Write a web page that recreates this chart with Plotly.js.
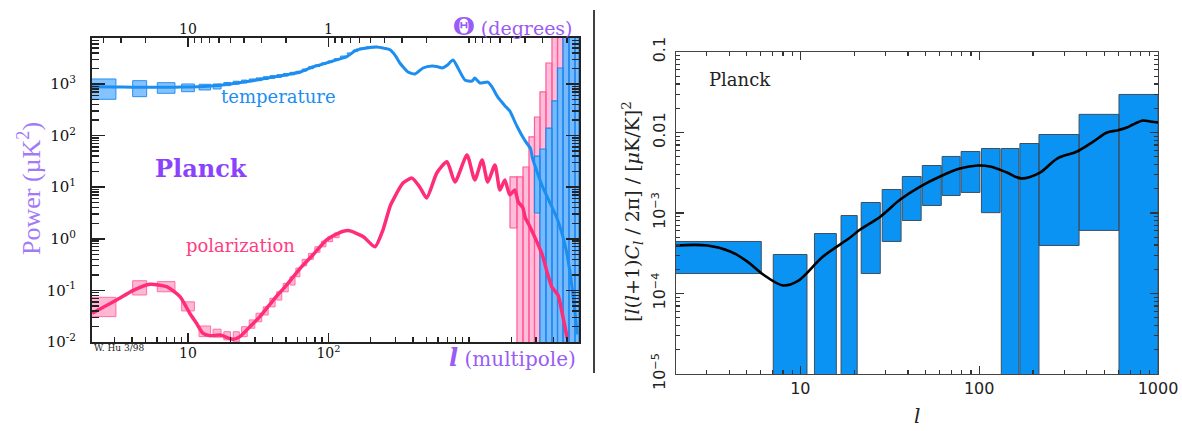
<!DOCTYPE html>
<html><head><meta charset="utf-8">
<script src="https://cdn.plot.ly/plotly-3.0.1.min.js"></script>
<style>html,body{margin:0;padding:0;background:#fff}#chart{width:1182px;height:431px}</style>
</head><body><div id="chart"></div>
<script>
// ---------- LEFT PANEL DATA (multipole l, power in uK^2) ----------
const tempL = [2,3,4,5,6,8,10,13,16,20,25,30,36,45,55,63,77,90,102,118,135,159,188,221,250,274,300,322,345,368,413,471,546,600,645,700,770,835,935,1050,1100,1200,1360,1450,1600,1800,1950,2200,2500,2750,2820,3050,3350,3650,4230,4820,5230,5680,5900];
const tempV = [880,875,865,860,860,865,875,895,930,1000,1090,1180,1290,1430,1580,1710,2130,2400,2670,3000,3380,4560,5000,5200,4900,4600,3500,2550,2050,1710,1560,2040,2230,2150,2040,2300,2920,2040,1200,1140,1300,1045,1090,900,560,380,300,150,80,55,38,20,10,6,2.5,0.77,0.23,0.038,0.014];

const polL = [2.08,3.1,4.08,5.37,7.05,8.77,10.3,11.5,12.8,14.3,16.9,21,23.4,27.6,32.5,40.5,50.3,63.1,77.6,97,115,138,177,214,244,274,288,339,393,447,500,590,697,794,968,1100,1240,1360,1530,1660,1800,1950,2120,2240,2420,2510,2720,3050,3330,3590,3890,4300,4590,5000];
const polV = [0.036,0.065,0.1,0.131,0.118,0.0755,0.036,0.023,0.0147,0.0133,0.0136,0.0113,0.0127,0.0198,0.031,0.065,0.127,0.27,0.49,0.95,1.25,1.44,1.1,0.70,1.48,4.2,5.6,12,15,10,6.2,18.8,31,12.6,42,13.8,33.7,12.6,27,8.8,13.8,7.1,8.8,5.2,4,2.6,1.7,0.86,0.48,0.23,0.116,0.081,0.038,0.012];

// temperature error boxes (low l)
const tBoxL0 = [2.0,4.04,6.05,9.02,12.0,15.1,18.0,21.0,24.1,27.3,30.5,34.3,38.3,42.8,47.6,53.2,58.6,65,72,80,89,99,110,122,136,150,166,185,205];
const tBoxL1 = [3.07,5.08,8.08,11.1,14.5,17.2,20.1,23.2,26.4,29.9,33.5,37.2,41.7,46.5,51.7,57.8,62.6,70,78,87,96,107,119,132,146,162,180,200,222];
const tBoxLo = [505,568,660,709,765,800,930,990,1050,1110,1160,1220,1290,1350,1420,1510,1590,1780,1980,2180,2390,2600,2900,3250,3750,4250,4700,4950,5050];
const tBoxHi = [1250,1159,1060,1000,987,1000,1070,1130,1190,1250,1310,1380,1450,1510,1590,1680,1760,1950,2150,2350,2570,2790,3100,3480,4000,4550,5000,5250,5350];

// polarization error boxes (low l)
const pBoxL0 = [2.0,4.04,6.05,9.02,12.0,15.1,18.0,21.0,24.1,27.3,30.5,34.3,38.3,42.8,47.6,53.2,58.6,65,72,80,89,99,110];
const pBoxL1 = [3.07,5.08,8.08,11.1,14.5,17.2,20.1,23.2,26.4,29.9,33.5,37.2,41.7,46.5,51.7,57.8,62.6,70,78,87,96,107,119];
const pBoxLo = [0.031,0.0815,0.094,0.040,0.0127,0.0124,0.011,0.0101,0.0127,0.0185,0.0247,0.0334,0.048,0.065,0.094,0.127,0.184,0.30,0.40,0.55,0.70,0.88,1.05];
const pBoxHi = [0.0735,0.154,0.148,0.060,0.0204,0.0177,0.0158,0.0158,0.0198,0.0268,0.036,0.048,0.070,0.094,0.137,0.184,0.27,0.40,0.52,0.70,0.90,1.10,1.30];

// high-l polarization bins
const pHiL0 = [1959,2196,2423,2673,2925,3200,3530,3896,4267,4670,5150];
const pHiL1 = [2196,2423,2673,2925,3200,3530,3896,4267,4670,5150,5680];
const pHiLo = [1.62,0.001,0.001,0.001,0.001,0.001,0.001,0.001,0.001,0.001,0.001];
const pHiHi = [15.8,15.8,24.6,94,229,700,2550,1e5,1e5,1e5,1e5];

// high-l temperature bins
const tHiL0 = [2925,3200,3530,3896,4267,4670,5150,5680];
const tHiL1 = [3200,3530,3896,4267,4670,5150,5680,6070];
const tHiLo = [3.16,0.001,0.001,0.001,0.001,0.001,0.001,0.001];
const tHiHi = [40,55,140,470,2040,1e5,1e5,1e5];

// angular scale axis (theta in degrees ~ 100 / l)
const thetaMajor = [10, 1, 0.1];
const thetaMajorText = ['10', '1', ''];
const thetaMinor = [40,30,20,9,8,7,6,5,4,3,2,0.9,0.8,0.7,0.6,0.5,0.4,0.3,0.2,0.09,0.08,0.07,0.06,0.05,0.04,0.03,0.02];

// ---------- RIGHT PANEL DATA ----------
const rBinL0 = [2.0,7.06,12.0,16.9,21.9,28.7,37.2,48.1,62.1,79.3,103,133,169,216,362,605];
const rBinL1 = [6.05,10.9,15.9,20.8,28.0,36.6,47.4,61.4,78.3,101,131,167,216,362,605,1000];
const rBinLo = [1.77e-4,1e-6,1e-6,1e-6,1.77e-4,4.43e-4,8.07e-4,1.24e-3,1.65e-3,1.80e-3,1.01e-3,1e-6,1e-6,3.95e-4,6.07e-4,1e-6];
const rBinHi = [4.43e-4,3.05e-4,5.56e-4,9.3e-4,1.35e-3,1.96e-3,2.84e-3,3.89e-3,5.04e-3,5.81e-3,6.33e-3,6.33e-3,7.3e-3,9.44e-3,0.0168,0.0297];

const rCurveL = [2,3.02,4.06,5.06,6.2,8.0,9.6,13.4,19,21.6,28,36.2,46.8,60.5,78,98.6,115,143,172,219,273,353,434,519,590,671,725,824,902,1000];
const rCurveV = [3.95e-4,3.95e-4,3.33e-4,2.49e-4,1.72e-4,1.26e-4,1.41e-4,2.88e-4,4.96e-4,6.24e-4,9.0e-4,1.47e-3,2.13e-3,2.84e-3,3.57e-3,3.89e-3,3.78e-3,3.18e-3,2.69e-3,3.18e-3,4.75e-3,5.81e-3,7.7e-3,0.0100,0.0106,0.01154,0.01256,0.0141,0.0137,0.0133];

// ---------- helpers ----------
function boxes(l0, l1, lo, hi, xa, ya, fill, line, lw) {
  const x = [], y = [];
  for (let i = 0; i < l0.length; i++) {
    x.push(l0[i], l1[i], l1[i], l0[i], l0[i], null);
    y.push(lo[i], lo[i], hi[i], hi[i], lo[i], null);
  }
  return {type:'scatter', mode:'lines', x, y, xaxis:xa, yaxis:ya, fill:'toself',
          fillcolor:fill, line:{color:line, width:lw}, hoverinfo:'skip'};
}
function decadeTicks(mults, decs) { const a=[]; decs.forEach(d=>mults.forEach(m=>a.push(+(m*d).toPrecision(6)))); return a; }
const thetaToL = t => +(100 / t).toPrecision(8);

const traces = [
  boxes(pBoxL0,pBoxL1,pBoxLo,pBoxHi,'x','y','rgba(255,170,205,0.85)','#ff6fa5',1),
  boxes(tBoxL0,tBoxL1,tBoxLo,tBoxHi,'x','y','rgba(110,185,255,0.85)','#2a8ff0',1),
  boxes(pHiL0,pHiL1,pHiLo,pHiHi,'x','y','rgba(255,185,215,0.95)','#ff5a9a',1.2),
  boxes(tHiL0,tHiL1,tHiLo,tHiHi,'x','y','rgba(110,185,255,0.95)','#1f86ee',1.2),
  {type:'scatter',mode:'lines',x:tempL,y:tempV,xaxis:'x',yaxis:'y',line:{color:'#1b8ef0',width:3,shape:'spline',smoothing:0.6},hoverinfo:'skip'},
  {type:'scatter',mode:'lines',x:polL,y:polV,xaxis:'x',yaxis:'y',line:{color:'#ff2c78',width:3.5,shape:'spline',smoothing:0.6},hoverinfo:'skip'},
  // invisible companion trace so the angular (top) axis owns data
  {type:'scatter',mode:'lines',x:tempL,y:tempV,xaxis:'x2',yaxis:'y',line:{color:'rgba(0,0,0,0)',width:0},hoverinfo:'skip',showlegend:false},
  boxes(rBinL0,rBinL1,rBinLo,rBinHi,'x3','y3','#0a93f2','#3d4f60',1),
  {type:'scatter',mode:'lines',x:rCurveL,y:rCurveV,xaxis:'x3',yaxis:'y3',line:{color:'#000',width:2.6,shape:'spline',smoothing:1},hoverinfo:'skip'}
];

const W = 1182, H = 431;
const px = v => v / W, py = v => 1 - v / H;
const serif = 'DejaVu Serif', sans = 'DejaVu Sans';
const axCol = '#222';
function ann(x, y, text, font, extra) {
  return Object.assign({xref:'paper', yref:'paper', x:px(x), y:py(y), text, font,
    showarrow:false, xanchor:'center', yanchor:'middle'}, extra || {});
}

const layout = {
  width: W, height: H, margin:{l:0,r:0,t:0,b:0}, paper_bgcolor:'#fff', plot_bgcolor:'rgba(0,0,0,0)', showlegend:false,
  xaxis: {domain:[px(92),px(579)], anchor:'y', type:'log', range:[0.317,3.783], showgrid:false, zeroline:false,
    showline:true, linecolor:axCol, linewidth:2, ticks:'inside', ticklen:9, tickwidth:1.6, tickcolor:axCol,
    tickvals:[10,100], ticktext:['10','10<sup>2</sup>'], tickfont:{family:serif,size:14,color:'#111'}, ticklabelstandoff:-3,
    minor:{tickvals:decadeTicks([2,3,4,5,6,7,8,9],[1,10,100]).concat([1000,2000,3000,4000,5000,6000]), ticks:'inside', ticklen:5, tickwidth:1.4, tickcolor:axCol, showgrid:false}},
  xaxis2: {overlaying:'x', side:'top', anchor:'y', type:'log', range:[0.317,3.783], autorange:false, showgrid:false, zeroline:false,
    showline:true, linecolor:axCol, linewidth:2, ticks:'inside', ticklen:9, tickwidth:1.6, tickcolor:axCol,
    showticklabels:true, tickmode:'array', ticklabelstandoff:-4,
    tickvals:thetaMajor.slice(0,2).map(thetaToL), ticktext:thetaMajorText.slice(0,2), tickfont:{family:serif,size:14,color:'#111'},
    minor:{tickvals:thetaMinor.concat([thetaMajor[2]]).map(thetaToL), ticks:'inside', ticklen:5, tickwidth:1.4, tickcolor:axCol, showgrid:false}},
  yaxis: {domain:[py(342),py(38)], anchor:'x', type:'log', range:[-2,3.891], showgrid:false, zeroline:false,
    showline:true, mirror:'ticks', linecolor:axCol, linewidth:2, ticks:'inside', ticklen:13, tickwidth:1.6, tickcolor:axCol,
    tickvals:[0.01,0.1,1,10,100,1000], ticktext:['10<sup>-2</sup>','10<sup>-1</sup>','10<sup>0</sup>','10<sup>1</sup>','10<sup>2</sup>','10<sup>3</sup>'],
    tickfont:{family:serif,size:15,color:'#111'}, ticklabelstandoff:11,
    minor:{tickvals:decadeTicks([2,3,4,5,6,7,8,9],[0.01,0.1,1,10,100,1000]), ticks:'inside', ticklen:7, tickwidth:1.4, tickcolor:axCol, showgrid:false}},
  xaxis3: {domain:[px(676),px(1158)], anchor:'y3', type:'log', range:[0.305,3.0], showgrid:false, zeroline:false,
    showline:true, mirror:'ticks', linecolor:'#444', linewidth:1.3, ticks:'inside', ticklen:8, tickwidth:1.2, tickcolor:'#333',
    tickvals:[10,100,1000], ticktext:['10','100','1000'], tickfont:{family:sans,size:16,color:'#222'}, ticklabelstandoff:-1,
    minor:{tickvals:decadeTicks([2,3,4,5,6,7,8,9],[1,10,100]), ticks:'inside', ticklen:4, tickwidth:1.1, tickcolor:'#333', showgrid:false}},
  yaxis3: {domain:[py(374),py(52)], anchor:'x3', type:'log', range:[-5,-1], showgrid:false, zeroline:false,
    showline:true, mirror:'ticks', linecolor:'#444', linewidth:1.3, ticks:'inside', ticklen:8, tickwidth:1.2, tickcolor:'#333',
    tickvals:[1e-5,1e-4,1e-3,0.01,0.1], ticktext:['10<sup>\u22125</sup>','10<sup>\u22124</sup>','10<sup>\u22123</sup>','0.01','0.1'],
    tickangle:-90, tickfont:{family:sans,size:16,color:'#222'}, ticklabelstandoff:3,
    minor:{tickvals:decadeTicks([2,3,4,5,6,7,8,9],[1e-5,1e-4,1e-3,0.01]), ticks:'inside', ticklen:4, tickwidth:1.1, tickcolor:'#333', showgrid:false}},
  shapes: [
    {type:'line', xref:'paper', yref:'paper', x0:px(594), x1:px(594), y0:py(373), y1:py(10), line:{color:'#000', width:1.5}}
  ],
  annotations: [
    ann(29, 189, 'Power (\u00b5K<sup>2</sup>)', {family:'Liberation Serif',size:26,color:'#a27af7'}, {textangle:-90}),
    ann(201, 168, '<b>Planck</b>', {family:serif,size:24,color:'#8a42fb'}),
    ann(278, 97, 'temperature', {family:serif,size:18,color:'#1b8ef0'}),
    ann(240, 246, 'polarization', {family:serif,size:18,color:'#ff3c82'}),
    ann(92, 348, 'W. Hu 3/98', {family:serif,size:9,color:'#222'}, {xanchor:'left'}),
    ann(575, 27, '<span style="font-size:25px"><b>\u0398</b></span> (degrees)', {family:serif,size:19,color:'#9a5cf6'}, {xanchor:'right'}),
    ann(578, 357, '<span style="font-size:24px"><b><i>l</i></b></span> (multipole)', {family:serif,size:20,color:'#9a5cf6'}, {xanchor:'right'}),
    ann(707, 79, 'Planck', {family:serif,size:18,color:'#222'}, {xanchor:'left'}),
    ann(632, 212, '[<i>l</i>(<i>l</i>+1)<i>C<sub>l</sub></i> / 2\u03c0] / [<i>\u03bc</i>K/K]<sup>2</sup>', {family:serif,size:19,color:'#222'}, {textangle:-90}),
    ann(917, 416, '<i>l</i>', {family:serif,size:20,color:'#222'})
  ]
};

Plotly.newPlot('chart', traces, layout, {staticPlot:true, displayModeBar:false});
</script></body></html>
